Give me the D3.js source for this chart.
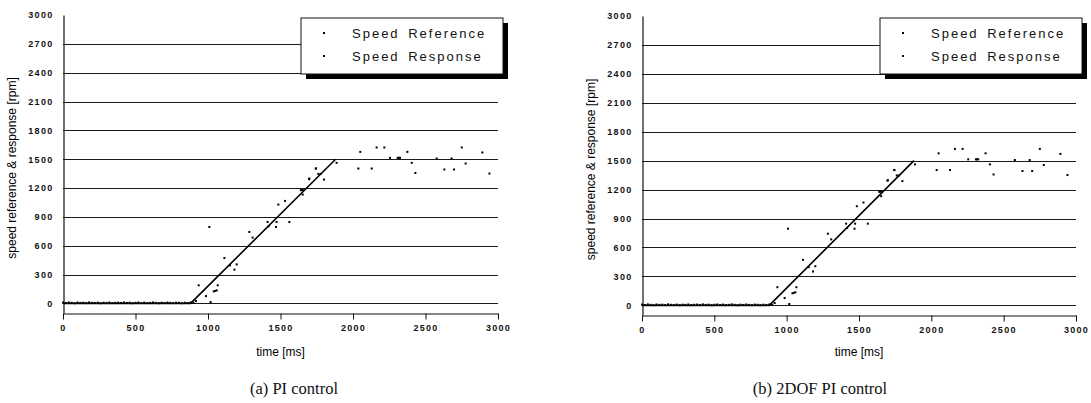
<!DOCTYPE html>
<html>
<head>
<meta charset="utf-8">
<script src="https://cdn.jsdelivr.net/npm/d3@7"></script>
<style>
  body { margin: 0; background: #fff; }
  svg { display: block; }
  .tick-label { font-family: "Liberation Sans", Arial, sans-serif; font-size: 9px; font-weight: bold; letter-spacing: 1.3px; fill: #111; }
  .axis-title { font-family: "Liberation Sans", Arial, sans-serif; font-size: 12px; fill: #000; }
  .legend-text { font-family: "Liberation Sans", Arial, sans-serif; font-size: 13px; letter-spacing: 2px; word-spacing: 3px; fill: #111; }
  .caption { font-family: "Liberation Serif", "DejaVu Serif", serif; font-size: 16.5px; fill: #111; }
</style>
</head>
<body>
<svg id="chart" width="1091" height="403"></svg>
<script>
// speed reference (piecewise breakpoints)
const refTime  = [0, 880, 1880];
const refSpeed = [0, 0, 1500];

// speed response samples (same in both panels)
const respTime = [
  0, 20, 40, 60, 80, 100, 120, 140, 160, 180, 200, 220, 240, 260, 280, 300, 320, 340, 360, 380,
  400, 420, 440, 460, 480, 500, 520, 540, 560, 580, 600, 620, 640, 660, 680, 700, 720, 740, 760,
  780, 800, 820, 840, 860, 880, 900,
  917, 936, 986, 1009, 1018, 1040, 1050, 1060, 1067, 1113, 1152, 1182, 1198,
  1285, 1308, 1411, 1418, 1469, 1473, 1485, 1531, 1561,
  1640, 1648, 1655, 1653, 1697, 1699, 1743, 1745, 1761, 1777, 1800, 1887,
  2037, 2050, 2129, 2163, 2216, 2255, 2308, 2316, 2324, 2375, 2405, 2430,
  2577, 2630, 2680, 2697, 2750, 2777, 2892, 2941
];
const respSpeed = [
  8, 4, 10, 6, 2, 9, 5, 7, 3, 10, 6, 4, 8, 2, 7, 5, 9, 3, 6, 8,
  4, 10, 5, 7, 2, 6, 9, 4, 8, 3, 5, 10, 6, 2, 7, 4, 9, 5, 3,
  8, 6, 2, 7, 4, 9, 5,
  24, 188, 76, 795, 14, 125, 130, 135, 188, 472, 396, 351, 406,
  743, 684, 847, 802, 795, 847, 1028, 1066, 847,
  1177, 1180, 1177, 1132, 1292, 1299, 1403, 1403, 1347, 1347, 1288, 1462,
  1403, 1576, 1403, 1622, 1622, 1514, 1514, 1514, 1514, 1576, 1462, 1357,
  1507, 1393, 1507, 1393, 1622, 1455, 1570, 1351
];

const yTicks = [0, 300, 600, 900, 1200, 1500, 1800, 2100, 2400, 2700];
const yLabels = [0, 300, 600, 900, 1200, 1500, 1800, 2100, 2400, 2700, 3000];
const xTicks = [0, 500, 1000, 1500, 2000, 2500, 3000];
const legendLabels = ["Speed Reference", "Speed Response"];
const captions = ["(a) PI control", "(b) 2DOF PI control"];

const svg = d3.select("#chart");

const panels = [
  { x0: 63, x1: 498, yTop: 15, yBot: 313, caption: captions[0], capX: 294 },
  { x0: 642, x1: 1076, yTop: 16, yBot: 315, caption: captions[1], capX: 820 }
];

const refPts = refTime.map((t, i) => ({ t: t, v: refSpeed[i] }));
const respPts = respTime.map((t, i) => ({ t: t, v: respSpeed[i] }));

panels.forEach(p => {
  const g = svg.append("g");
  const x = d3.scaleLinear().domain([0, 3000]).range([p.x0, p.x1]);
  const y = d3.scaleLinear().domain([-100, 3000]).range([p.yBot, p.yTop]);

  // horizontal grid
  g.selectAll(".grid").data(yTicks).enter().append("line")
    .attr("x1", x(0)).attr("x2", x(3000))
    .attr("y1", d => Math.round(y(d)) + 0.5).attr("y2", d => Math.round(y(d)) + 0.5)
    .attr("stroke", "#1a1a1a").attr("stroke-width", 1);

  // x axis with downward ticks
  const xAxis = g.append("g").attr("transform", `translate(0,${Math.round(y(-100)) + 0.5})`)
    .call(d3.axisBottom(x).tickValues(xTicks).tickSize(6).tickSizeOuter(0).tickPadding(5).tickFormat(d3.format("d")));
  xAxis.select(".domain").attr("stroke", "#111");
  xAxis.selectAll(".tick line").attr("stroke", "#111");
  xAxis.selectAll("text").attr("class", "tick-label").attr("font-size", null).attr("font-family", null);

  // y axis
  const yAxis = g.append("g").attr("transform", `translate(${Math.round(x(0)) + 0.5},0)`)
    .call(d3.axisLeft(y).tickValues(yLabels).tickSize(0).tickPadding(10).tickFormat(d3.format("d")));
  yAxis.select(".domain").attr("stroke", "#111").attr("stroke-width", 1.2);
  yAxis.selectAll("text").attr("class", "tick-label").attr("font-size", null).attr("font-family", null);

  // reference line
  g.append("path").datum(refPts)
    .attr("fill", "none").attr("stroke", "#000").attr("stroke-width", 1.6)
    .attr("d", d3.line().x(d => x(d.t)).y(d => y(d.v)));

  // response dots
  g.selectAll(".resp").data(respPts).enter().append("rect")
    .attr("x", d => x(d.t) - 1).attr("y", d => y(d.v) - 1)
    .attr("width", 2).attr("height", 2).attr("fill", "#000");

  // axis titles
  g.append("text").attr("class", "axis-title")
    .attr("x", (x(0) + x(3000)) / 2).attr("y", 356).attr("text-anchor", "middle")
    .text("time [ms]");
  g.append("text").attr("class", "axis-title")
    .attr("transform", `translate(${x(0) - 47},${(y(-100) + y(3000)) / 2 + 4}) rotate(-90)`)
    .attr("text-anchor", "middle")
    .text("speed reference & response [rpm]");

  // legend
  const lx = x(0) + 238, ly = 18, lw = 202, lh = 56;
  const leg = g.append("g");
  leg.append("rect").attr("x", lx + 5).attr("y", ly + 5).attr("width", lw).attr("height", lh).attr("fill", "#000");
  leg.append("rect").attr("x", lx).attr("y", ly).attr("width", lw).attr("height", lh)
    .attr("fill", "#fff").attr("stroke", "#111").attr("stroke-width", 1);
  legendLabels.forEach((lab, i) => {
    leg.append("rect").attr("x", lx + 22).attr("y", ly + 15 + i * 23 - 1).attr("width", 2).attr("height", 2).attr("fill", "#000");
    leg.append("text").attr("class", "legend-text")
      .attr("x", lx + 51).attr("y", ly + 20 + i * 23).text(lab);
  });

  // caption
  g.append("text").attr("class", "caption")
    .attr("x", p.capX).attr("y", 394).attr("text-anchor", "middle").text(p.caption);
});
</script>
</body>
</html>
